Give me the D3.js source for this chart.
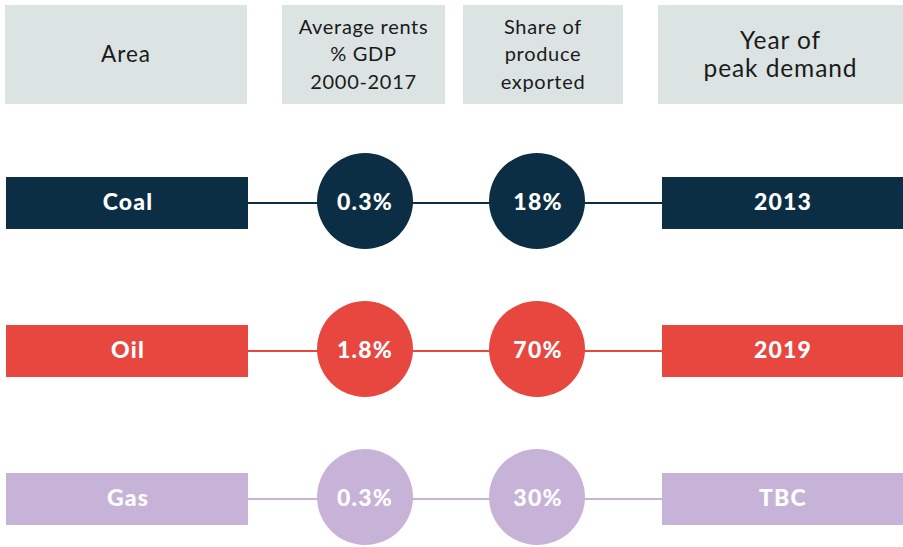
<!DOCTYPE html>
<html>
<head>
<meta charset="utf-8">
<script src="https://cdn.jsdelivr.net/npm/d3@7"></script>
<style>
  body { margin: 0; background: #fff; }
  svg { display: block; font-family: Lato, "Open Sans", sans-serif; }
</style>
</head>
<body>
<svg id="chart" width="903" height="547"></svg>
<script>
// Dados da tabela
const areas = ['Coal', 'Oil', 'Gas'];
const rendas = ['0.3%', '1.8%', '0.3%'];
const exportado = ['18%', '70%', '30%'];
const picoDemanda = ['2013', '2019', 'TBC'];
const cabecalhos = [
  ['Area'],
  ['Average rents', '% GDP', '2000-2017'],
  ['Share of', 'produce', 'exported'],
  ['Year of', 'peak demand']
];
const cores = ['#0b2e44', '#e8473f', '#c8b3d8'];

const svg = d3.select('#chart');

// Escala das linhas (vertical)
const escalaY = d3.scalePoint()
  .domain(areas)
  .range([203, 499]);

const cor = d3.scaleOrdinal().domain(areas).range(cores);

// Colunas do cabeçalho
const colunas = [
  { x0: 5, x1: 247, tam: 22.5, esp: 1 },
  { x0: 282, x1: 445, tam: 20, esp: 0.7 },
  { x0: 463, x1: 623, tam: 20, esp: 0.7 },
  { x0: 658, x1: 903, tam: 24.5, esp: 0.9 }
];

const cab = svg.selectAll('g.cab')
  .data(cabecalhos)
  .enter()
  .append('g')
  .attr('class', 'cab');

cab.append('rect')
  .attr('x', (d, i) => colunas[i].x0)
  .attr('y', 5)
  .attr('width', (d, i) => colunas[i].x1 - colunas[i].x0)
  .attr('height', 99)
  .attr('fill', '#dce3e3');

cab.each(function(linhas, i) {
  const c = colunas[i];
  const passo = linhas.length === 3 ? 27.5 : 28;
  const meio = 54;
  const texto = d3.select(this).append('text')
    .attr('text-anchor', 'middle')
    .attr('font-size', c.tam)
    .attr('letter-spacing', c.esp)
    .attr('fill', '#1a1a1a');
  linhas.forEach((l, j) => {
    texto.append('tspan')
      .attr('x', (c.x0 + c.x1) / 2)
      .attr('y', meio + (j - (linhas.length - 1) / 2) * passo)
      .attr('dy', '0.35em')
      .text(l);
  });
});

// Linhas de cada área
const linha = svg.selectAll('g.linha')
  .data(areas)
  .enter()
  .append('g')
  .attr('class', 'linha')
  .attr('transform', d => `translate(0,${escalaY(d)})`);

// conector
linha.append('line')
  .attr('x1', 247)
  .attr('x2', 662)
  .attr('y1', 0)
  .attr('y2', 0)
  .attr('stroke', d => cor(d))
  .attr('stroke-width', 2);

// retângulo da área
linha.append('rect')
  .attr('x', 6)
  .attr('y', -26)
  .attr('width', 242)
  .attr('height', 52)
  .attr('fill', d => cor(d));

// retângulo do ano
linha.append('rect')
  .attr('x', 662)
  .attr('y', -26)
  .attr('width', 241)
  .attr('height', 52)
  .attr('fill', d => cor(d));

// círculos
const xCirculos = [365, 537];
xCirculos.forEach(cx => {
  linha.append('circle')
    .attr('cx', cx)
    .attr('cy', -2)
    .attr('r', 48)
    .attr('fill', d => cor(d));
});

const rotulo = (sel, x, valores) => sel.append('text')
  .attr('x', x)
  .attr('y', -1)
  .attr('dy', '0.35em')
  .attr('text-anchor', 'middle')
  .attr('font-size', 23)
  .attr('font-weight', 900)
  .attr('letter-spacing', 1.2)
  .attr('fill', '#fff')
  .text((d, i) => valores[i]);

rotulo(linha, 128, areas);
rotulo(linha, 365, rendas);
rotulo(linha, 538, exportado);
rotulo(linha, 783, picoDemanda);
</script>
</body>
</html>
